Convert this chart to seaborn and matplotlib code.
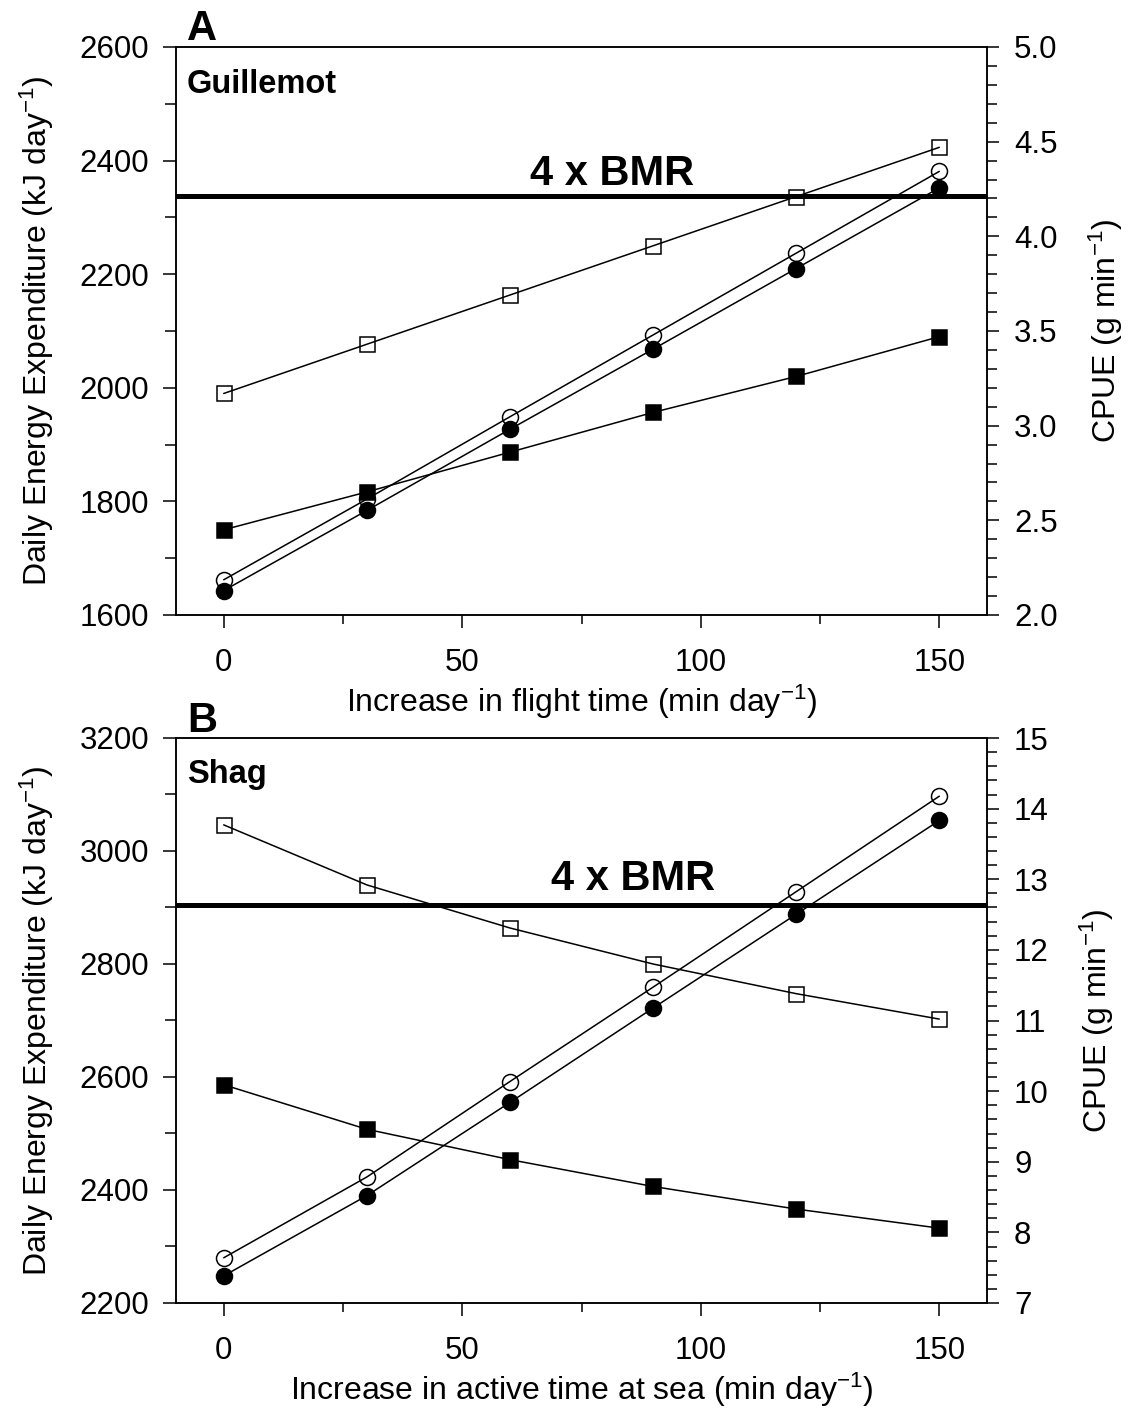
import numpy as np
import pandas as pd
import matplotlib
matplotlib.use("Agg")
import matplotlib.pyplot as plt
from matplotlib.ticker import MultipleLocator, FormatStrFormatter
import seaborn as sns

# ---------------- data ----------------
time_inc = [0, 30, 60, 90, 120, 150]

# Panel A - Guillemot
guil_dee_open = [1662, 1804, 1949, 2093, 2237, 2381]      # left axis, open circles
guil_dee_filled = [1643, 1784, 1927, 2068, 2210, 2352]    # left axis, filled circles
guil_cpue_open = [3.17, 3.43, 3.69, 3.95, 4.21, 4.47]     # right axis, open squares
guil_cpue_filled = [2.45, 2.65, 2.86, 3.07, 3.26, 3.47]   # right axis, filled squares
guil_bmr4 = 2338

# Panel B - Shag
shag_dee_open = [2280, 2423, 2592, 2759, 2928, 3097]
shag_dee_filled = [2248, 2390, 2555, 2722, 2888, 3054]
shag_cpue_open = [13.77, 12.92, 12.31, 11.80, 11.38, 11.02]
shag_cpue_filled = [10.09, 9.46, 9.03, 8.65, 8.33, 8.06]
shag_bmr4 = 2904

sns.set_theme(style="ticks")
plt.rcParams["font.family"] = ["Liberation Sans", "DejaVu Sans"]
plt.rcParams["mathtext.default"] = "regular"
for k in ("text.color", "axes.labelcolor", "xtick.color", "ytick.color", "axes.edgecolor"):
    plt.rcParams[k] = "black"

TICK_FS = 22.5
LAB_FS = 23
LW = 1.1

fig = plt.figure(figsize=(11.32, 14.14), dpi=100)
W, H = 1132, 1414

def mk_axes(top_px, bot_px):
    left, right = 176, 987
    return fig.add_axes([left / W, 1 - bot_px / H, (right - left) / W, (bot_px - top_px) / H])

axA = mk_axes(47, 615)
axB = mk_axes(738, 1303)

def draw_series(ax, y, marker, filled, ms):
    sns.lineplot(x=time_inc, y=y, ax=ax, color="black", linewidth=LW,
                 marker=marker, markersize=ms,
                 markerfacecolor="black" if filled else "none",
                 markeredgecolor="black", markeredgewidth=1.1,
                 legend=False, clip_on=False)

def style_axes(ax, ax2, ylim, ymaj, ymin, y2lim, y2maj, y2min, y2fmt, xlabel):
    ax.set_xlim(-10, 160)
    ax.set_ylim(*ylim)
    ax2.set_ylim(*y2lim)
    ax.xaxis.set_major_locator(MultipleLocator(50))
    ax.xaxis.set_minor_locator(MultipleLocator(25))
    ax.yaxis.set_major_locator(MultipleLocator(ymaj))
    ax.yaxis.set_minor_locator(MultipleLocator(ymin))
    ax2.yaxis.set_major_locator(MultipleLocator(y2maj))
    ax2.yaxis.set_minor_locator(MultipleLocator(y2min))
    ax2.yaxis.set_major_formatter(FormatStrFormatter(y2fmt))
    for a in (ax, ax2):
        for s in a.spines.values():
            s.set_linewidth(1.1)
            s.set_color("black")
        a.grid(False)
    ax.tick_params(axis="x", which="major", direction="out", length=9.5, width=1.1,
                   labelsize=TICK_FS, pad=14, colors="black", top=False, bottom=True)
    ax.tick_params(axis="x", which="minor", direction="out", length=6.5, width=1.1,
                   top=False, bottom=True, colors="black")
    ax.tick_params(axis="y", which="major", direction="out", length=9.5, width=1.1,
                   labelsize=TICK_FS, pad=10, colors="black", left=True, right=False)
    ax.tick_params(axis="y", which="minor", direction="out", length=8, width=1.1,
                   left=True, right=False, colors="black")
    ax2.tick_params(axis="y", which="major", direction="out", length=8.5, width=1.1,
                    labelsize=TICK_FS, pad=11, colors="black", right=True, left=False)
    ax2.tick_params(axis="y", which="minor", direction="out", length=7, width=1.1,
                    right=True, left=False, colors="black")
    ax.set_xlabel(xlabel, fontsize=LAB_FS, labelpad=4, color="black")
    ax.set_ylabel("Daily Energy Expenditure (kJ day$^{-1}$)", fontsize=LAB_FS,
                  labelpad=17, color="black")
    ax2.set_ylabel("CPUE (g min$^{-1}$)", fontsize=LAB_FS, labelpad=21, color="black")

# ---------- Panel A ----------
axA2 = axA.twinx()
axA.axhline(guil_bmr4, color="black", linewidth=3.6, solid_capstyle="round", zorder=1)
draw_series(axA, guil_dee_open, "o", False, 11.5)
draw_series(axA, guil_dee_filled, "o", True, 11.5)
draw_series(axA2, guil_cpue_open, "s", False, 10.8)
draw_series(axA2, guil_cpue_filled, "s", True, 10.8)
style_axes(axA, axA2, (1600, 2600), 200, 100, (2.0, 5.0), 0.5, 0.1, "%.1f",
           "Increase in flight time (min day$^{-1}$)")

# ---------- Panel B ----------
axB2 = axB.twinx()
axB.axhline(shag_bmr4, color="black", linewidth=3.6, solid_capstyle="round", zorder=1)
draw_series(axB, shag_dee_open, "o", False, 11.5)
draw_series(axB, shag_dee_filled, "o", True, 11.5)
draw_series(axB2, shag_cpue_open, "s", False, 10.8)
draw_series(axB2, shag_cpue_filled, "s", True, 10.8)
style_axes(axB, axB2, (2200, 3200), 200, 100, (7, 15), 1, 0.2, "%d",
           "Increase in active time at sea (min day$^{-1}$)")

# ---------- annotations ----------
fig.text(187 / W, 1 - 40.5 / H, "A", fontsize=30, fontweight="bold", va="baseline", ha="left", color="black")
fig.text(187 / W, 1 - 93 / H, "Guillemot", fontsize=23.5, fontweight="bold", va="baseline", ha="left", color="black")
fig.text(612 / W, 1 - 185 / H, "4 x BMR", fontsize=30, fontweight="bold", va="baseline", ha="center", color="black")

fig.text(187 / W, 1 - 732 / H, "B", fontsize=30, fontweight="bold", va="baseline", ha="left", color="black")
fig.text(187 / W, 1 - 783 / H, "Shag", fontsize=23.5, fontweight="bold", va="baseline", ha="left", color="black")
fig.text(633 / W, 1 - 890 / H, "4 x BMR", fontsize=30, fontweight="bold", va="baseline", ha="center", color="black")

fig.savefig("out.png", dpi=100, facecolor="white")
